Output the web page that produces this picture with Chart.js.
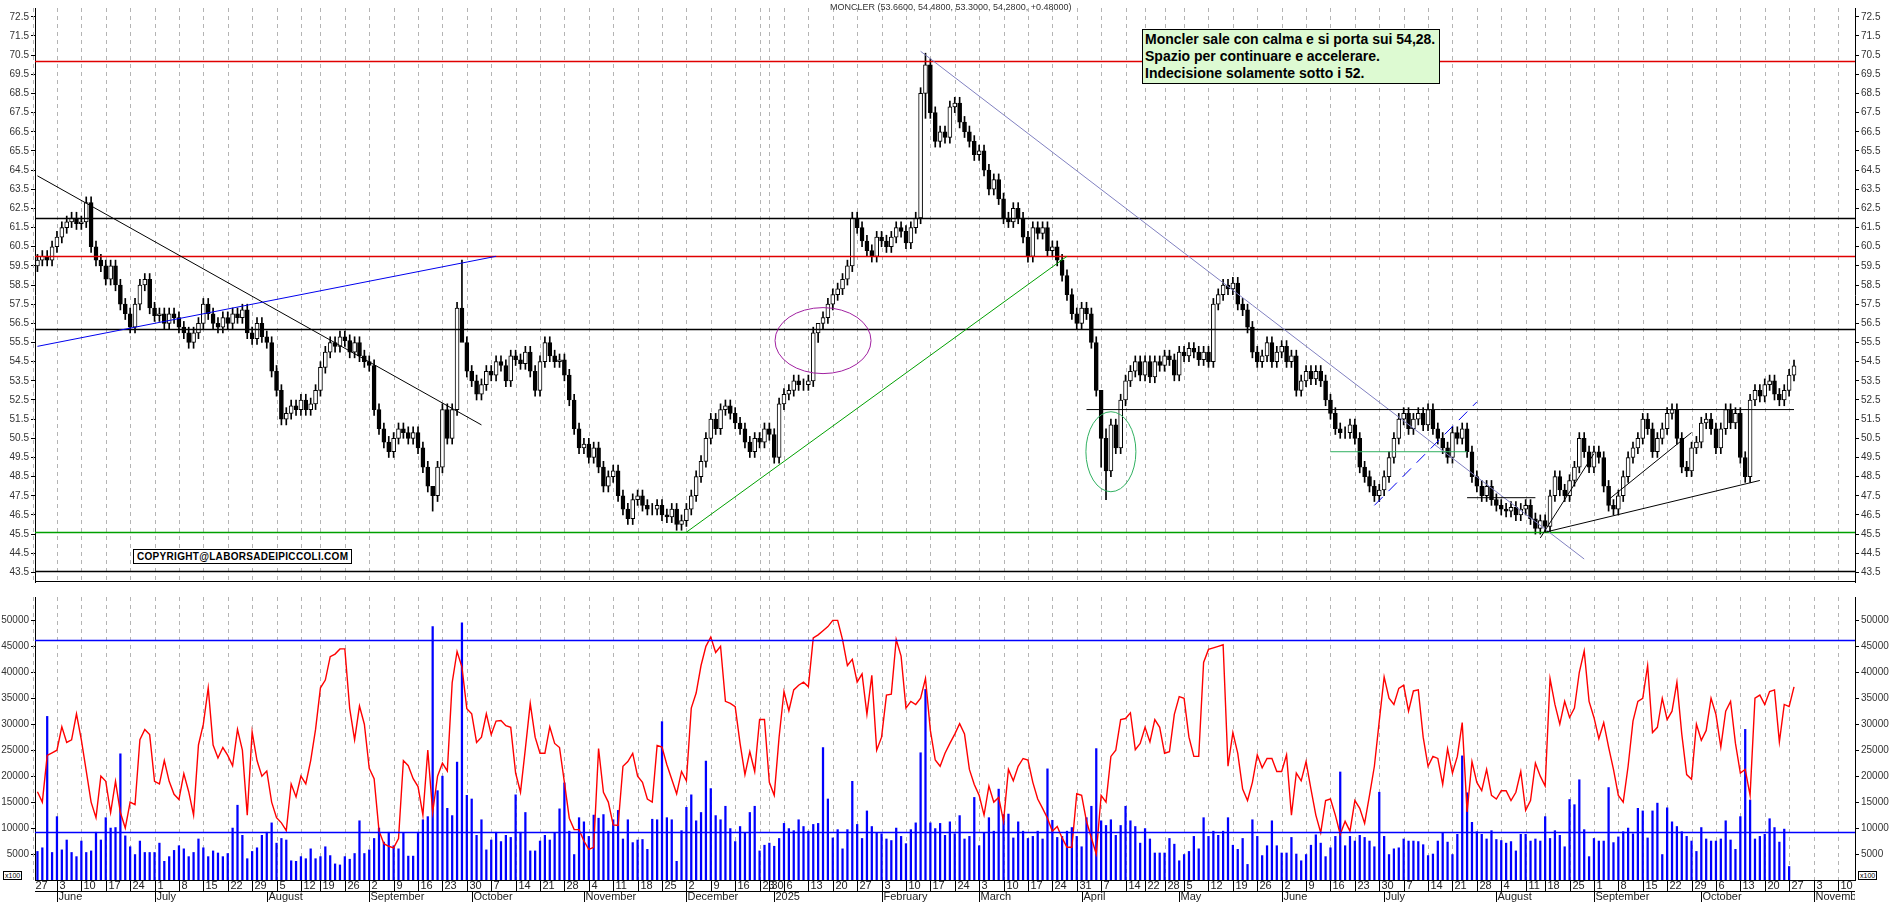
<!DOCTYPE html>
<html>
<head>
<meta charset="utf-8">
<script src="https://cdn.jsdelivr.net/npm/chart.js@4/dist/chart.umd.min.js"></script>
<style>
  body { margin:0; background:#fff; font-family:"Liberation Sans", Arial, sans-serif; }
  #wrap { position:relative; width:1890px; height:902px; overflow:hidden; }
  canvas { position:absolute; left:0; }
  #title { position:absolute; left:830px; top:2px; font-size:9px; color:#333; }
  #note { position:absolute; left:1142px; top:29px; background:#ddfad2; border:1px solid #000; white-space:nowrap;
          font-weight:bold; font-size:14px; line-height:17px; padding:1px 4px 1px 2px; }
  #copy { position:absolute; left:133px; top:549px; border:1px solid #000; background:#fff;
          font-weight:bold; font-size:10px; padding:1px 3px; letter-spacing:0.3px; }
  .x100 { position:absolute; top:871px; font-size:7px; border:1px solid #000; padding:0 1px; background:#fff; }
</style>
</head>
<body>
<div id="wrap">
  <canvas id="price" width="1890" height="590" style="top:0"></canvas>
  <canvas id="vol" width="1890" height="313" style="top:589px"></canvas>
  <div id="title">MONCLER (53.6600, 54.4800, 53.3000, 54.2800, +0.48000)</div>
  <div id="note">Moncler sale con calma e si porta sui 54,28.<br>Spazio per continuare e accelerare.<br>Indecisione solamente sotto i 52.</div>
  <div id="copy">COPYRIGHT@LABORSADEIPICCOLI.COM</div>
  <div class="x100" style="left:3px">x100</div>
  <div class="x100" style="left:1858px">x100</div>
</div>
<script>
// ── Data ───────────────────────────────────────────────────────
const holidays = ['2024-08-15','2024-12-24','2024-12-25','2024-12-26','2024-12-31','2025-01-01',
                  '2025-04-18','2025-04-21','2025-05-01','2025-08-15'];

// daily closes, 27 May 2024 → 30 Dec 2024
const close2024 = [
  59.8,60.0,59.8,60.5,61.0, 61.5,61.8,62.0,61.7,61.8, 62.8,60.5,59.8,59.5,58.8,
  59.5,58.5,57.5,57.0,56.3, 57.5,58.5,58.8,57.3,56.9, 57.0,56.5,57.0,56.8,56.3,
  56.0,55.5,56.0,56.5,57.5, 57.0,56.5,56.3,56.8,56.5, 57.0,56.8,57.2,56.0,55.7,
  56.5,55.8,55.5,54.0,53.0, 51.5,51.8,52.2,52.0,52.5, 52.0,52.3,53.0,54.2,
  55.0,55.5,55.3,55.8,55.6, 55.0,55.5,54.8,54.5,54.3, 52.0,51.0,50.3,49.8,50.5,
  51.0,50.8,50.5,50.8,50.0, 49.0,48.0,47.5,49.0,52.0, 50.5,52.0,57.3,55.5,54.0,
  53.5,52.8,53.3,54.0,53.8, 54.5,54.3,53.5,54.8,54.6, 54.4,55.0,54.0,53.0,54.5,
  55.5,54.8,54.5,54.6,53.8, 52.5,51.0,50.0,50.2,49.5, 50.0,49.0,48.0,48.5,48.8,
  47.5,46.8,46.3,47.3,47.5, 47.0,46.8,46.8,47.0,46.5, 46.4,46.8,46.0,46.2,46.8,
  47.5,48.5,49.3,50.5,51.5, 51.0,52.0,52.2,51.8,51.3, 51.0,50.3,49.8,50.5,50.3,
  51.0,50.7, 49.5
];
// daily closes, 2 Jan 2025 → 27 Oct 2025
const close2025 = [
  52.3,52.8, 53.0,53.5,53.3,53.3,53.5, 56.0,56.5,56.8,57.5,58.0, 58.3,58.8,59.5,62.0,61.5,
  60.8,60.3,60.0,61.0,60.8, 60.5,61.0,61.5,61.3,60.7, 61.5,62.0,68.5,70.0,67.5,
  66.0,66.5,66.2,67.8,68.0, 67.0,66.5,66.0,65.3,65.5, 64.5,63.5,64.0,63.0,62.0,
  61.8,62.5,62.0,61.0,60.0, 61.5,61.2,61.5,60.3,60.5, 59.8,59.0,58.0,57.0,56.5,
  57.3,57.0,55.5,53.0,50.5, 48.8,51.2,50.0,52.5,53.5, 54.0,54.5,53.8,54.5,
  53.7,54.5,54.3,54.8, 54.6,53.8,55.0,54.8, 55.2,55.0,54.6,55.0,54.5,
  57.5,58.0,58.5,58.3,58.6, 57.5,57.2,56.3,55.0,54.5, 54.8,55.5,54.5,55.0,55.3,
  54.5,54.8,53.0,53.5,54.0, 53.6,54.0,53.5,52.5,51.8, 51.0,50.8,50.8,51.2,50.5,
  49.0,48.5,48.0,47.5,47.8, 48.5,49.5,50.5,51.5,51.8, 51.0,51.5,51.8,51.2,52.0,
  51.0,50.5,50.0,49.5,50.8, 50.5,51.0,49.8,48.5,48.0, 47.5,48.0,47.3,47.0,46.8,
  46.7,46.9,46.5,46.8,47.0, 46.3,45.8,46.2,45.9, 47.5,48.5,47.8,47.5,48.3,
  49.0,50.5,49.8,49.0,49.8, 49.5,48.0,47.0,46.8,47.5, 48.5,49.5,50.0,50.5,51.5,
  51.0,49.8,50.5,51.0,51.8, 52.0,50.5,49.0,48.8,50.0, 50.3,51.3,51.5,51.0,50.0,
  51.0,52.0,51.3,51.8,49.5, 48.5,52.5,53.0,52.7,53.3, 53.5,52.8,52.5,53.0,53.8,
  54.28
];
// long shadows: [date, high, low]
const shadows = [['2024-09-26',59.8,56.0],['2024-09-18',47.6,46.7],['2025-02-13',70.6,67.2],
                 ['2025-04-07',51.0,47.3],['2025-04-04',52.8,49.0],['2025-01-14',56.5,55.5]];

// volume bars (thousands, axis shown x100)
const volA = [5.5,6.2,31.5,5.3,12.2, 5.8,7.7,5.3,4.5,7.5, 5.3,5.6,9.2,7.7,12, 10,10.1,24.3,8.5,6.4,
  4.9,7.5,5.3,5.3,5.3, 7.1,3.6,4.5,5.7,6.6, 6,4.5,5.3,7.9,6.2, 4.5,5.6,5.2,4.5,5.1, 10,14.4,8.6,4.1,5.5,
  6.2,8.6,9.2,11,7.1, 8,7.7,3.7,3.6, 4.5,4.1,6,4.1,4.5, 6.4,4.7,3.1,2.9,4.5, 4,5.1,11.4,5.1,5.8,
  8,10,7.3,9.2,6.6, 6,9,4.6,4.6,9.2, 11.6,12.2,48.8,17.2,20, 13.8,12.4,22.7,49.5,16.3, 15.6,8.6,11.6,5.8];
const volB = [7.7,9.2,7.4,8.6,8.2, 16.4,9.2,13,5.6,5.6, 7.5,8.6,7.7,9,13.7, 18.7,9.4,4.9,12,11.2,
  8.4,12.5,11.9,12.6,9.4, 11.6,13.4,7.9,11.6,7.2, 7.7,7.8,5.9,11.7,11.6, 30.5,12,11.6,3.6,9.5,
  14,16.4,11.4,13,22.9, 17.6,12.4,11.6,14.2,9.9, 7.4,10.3,9,13,14.2, 5.6,6.7,7.1,6.5,8,
  10.9,9.9,9.5,11.6,10.3, 9.4,10.7,10.9,25.5,15.6, 8.1,9.7,6,9.7,19, 10.7,8,13.3,10.3,9,
  8.9,7.9,7.6,10,8.4, 7,9.7,11,24.5,36.7, 11,9.9,10.9];
const volC = [8.6,11.2,8.9,12.4,7.9, 8.4,15.9,6.6,9,12, 9.4,17.5,12.6,12.7,8.1, 11.2,9.4,8,8.4,9.4,
  7.9,21.4,11.5,8.2,8.4, 9.4,10.1,8.4,6.4,12, 14.2,25.3,11.4,10.5,11.6, 8.6,10.5,14.2,11.4,10.3,
  7.1,9.9,7.9,5.2,5.2, 5.2,8,6.9,3.7,4.9, 5.5,8.4,6,12,8.4, 9.4,8.6,9.4,12,6.7, 5.9,8,3,11.6,8.4,
  4.7,6.6,11.4,6.6,5.2, 5.2,8.2,5,3.7,4.9, 6.7,8.7,7.1,4.5,6.2, 8.4,20.8,6.6,8.4,7.5, 8.6,8.2,7.5,6.4,16.9,
  8.4,4.9,6,6.2,7.9,7.5];
const volD = [7.5,7.4,6.8,4.7,5, 7.5,9,7.3,4.9,8.8, 23.9,16.8,11.1,9.3,8.8, 7.9,9.5,7.8,7.6,7.1,
  7.4,5.6,8.8,8.8,7.5, 7.9,7.5,12.2,8,9.5, 8.6,6.4,15.5,14.5,19.3, 9.7,4.5,8,7.5,7.5,
  17.8,7.2,8.3,9.3,10, 8.9,13.8,13.3,8.1,13.3, 14.8,4.9,13.9,11.2,10.3, 9.3,8.4,7.5,5.5,10.1,
  7.9,7.5,7.5,7.9,11.4, 7.7,5.9,12.2,29,15.4, 7.9,8.4,8.8,11.8,10.1, 7.3,9.8,2.6];

// red oscillator line (thousands)
const redA = [17,15,24,24.5,25, 29.5,26.5,27,32,27, 21,15,12,20,19, 13,19,13,10,15, 14.5,27,29,28,19,
  18.5,23,19,16.5,15.5, 20.5,17,12.5,26,30, 37,26,23.5,25.5,24, 22,29,25,12.5,28.5, 23,20,21,15,12,
  11,9.5,18.5,16,20, 18.5,23,29,37,38.5, 43,43.5,44.5,44.5,33, 27,33.5,30,21.5,19.5, 9.5,7,6.5,6.2,8,
  23,22,19.5,18,12.5, 25,13,20,22.5,21, 38,44,41,33,32, 26.5,27.5,32,28];
const redB = [30.6,30.7,29.7,29.4,20.6, 16.9,25.3,34,27.5,24.4, 24.4,29.5,26.3,25.5,18.8, 11.9,9.7,9.7,7.5,5.9,
  6.3,25.3,16.9,15,10.6, 10.5,21.9,22.8,24.4,20, 18.8,15.6,15,25.9,25.6, 22.2,19.4,16.6,20.9,19.1,
  33.1,36,41.3,45,46.8, 43.8,45,34.4,34,33.4, 26.3,20.3,24.7,20.9,30.9, 30.9,18.8,16.3,27.5,36.3,
  32.6,36.6,37.5,38.1,37.2, 46.6,47.2,48,48.8,50, 50,46.3,41.3,42.5,38.1, 39.7,31.9,39.4,25,27.5,
  35.6,35.8,46.3,43.1,33.1, 34.4,33.8,35,38.8,28.8, 23.1];
const redC = [21.9,24.4,26.3, 28.1,30.1,28.1,21.3,18.4, 16.3,12.5,18.1,15,15.9, 11.3,21.3,19.1,21.9,23.4,
  23.1,18.8,15.6,13.8,11.9, 9.4,10.3,8.1,6.3,6.3, 16.6,16.3,11.3,8.1,5, 16.3,15,23.8,25,30.9,
  31.1,32.2,25.1,26.3,29.4, 26.6,30.9,29.4,24.4,24.7, 31.9,35.3,35,27.5,23.8, 23.8,41.9,44.4,44.7,45,
  45.3,21.9,28.4,24.4,17.5, 15.3,18.8,24.1,21.6,23.4, 23.4,20.9,20.9,24.1,12.5, 20.6,19.1,22.8,17.5,12.5,
  9.1,15.3,15.6,12.5,8.8, 11.3,9.4,15.3,13.8,10.9, 16.3,21.9,30.6,39.1,35, 33.8,36.9,37.5,32.5,36.4];
const redD = [36.6,27.5,21.9,23.8,23.4, 18.4,25.3,20.6,23.8,30.3, 13.1,22.8,18.8,17.2,21.3, 16.3,15.6,17.2,17.2,15.3,
  16.9,20.9,13.4,15.3,22.5, 20,18.1,38.8,33.8,30, 34.4,31.3,33.1,40,44.1, 34.4,31.3,27.2,30.3,25.6,
  21.3,16.3,15,21.9,30.6, 34.4,35,41.3,28.4,29.4, 35,30.9,32.5,38.1,28.1, 20.3,19.4,30,26.9,28.8,
  35,31.9,25.6,32.5,34.4, 26.3,20.6,21.3,16.3,35, 35.6,33.8,36.3,36.6,26.6, 33.8,33.4,37.2];

// horizontal levels and drawn lines (date, price)
const priceLevels = [[70.2,'#e00000'],[62.0,'#000'],[60.0,'#e00000'],[56.2,'#000'],[45.6,'#00a000'],[43.6,'#000']];
const volLevels = [46300, 9300];
const trendLines = [
  ['2024-05-27',64.2,'2024-10-02',51.2,'#000'],
  ['2024-05-27',55.3,'2024-10-07',60.0,'#0000ee'],
  ['2024-11-29',45.6,'2025-03-26',60.0,'#00a000'],
  ['2025-02-12',70.7,'2025-08-27',44.2,'#8080c0'],
  ['2025-04-01',52.0,'2025-10-27',52.0,'#000'],
  ['2025-06-13',49.8,'2025-07-23',49.8,'#30b060'],
  ['2025-07-23',47.4,'2025-08-12',47.4,'#000'],
  ['2025-08-13',45.3,'2025-08-29',49.7,'#000'],
  ['2025-08-14',45.6,'2025-10-16',48.3,'#000'],
  ['2025-09-03',47.3,'2025-09-26',50.8,'#000'],
];
const dashedLines = [['2025-06-26',47.0,'2025-07-25',52.4,'#0000ee']];
const ellipses = [['2025-01-15',55.6,48,33,'#a020a0'],['2025-04-08',49.8,25,40,'#30b060']];

// ── Build axis days ────────────────────────────────────────────
const days = [];
for (let t = Date.UTC(2024,4,27); t <= Date.UTC(2025,10,12); t += 86400000) {
  const d = new Date(t), s = d.toISOString().slice(0,10);
  if (d.getUTCDay() === 0 || d.getUTCDay() === 6 || holidays.includes(s)) continue;
  days.push(s);
}
const idx = s => days.indexOf(s);
const weekId = s => Math.floor((Date.parse(s + 'T00:00:00Z') / 86400000 + 3) / 7);
const weekStarts = days.map((s, i) => (i === 0 || weekId(s) !== weekId(days[i-1])) ? i : -1).filter(i => i >= 0);

const closes = close2024.concat(close2025);
const vols = volA.concat(volB, volC, volD).map(v => v * 1000);
const reds = redA.concat(redB, redC, redD).map(v => v * 1000);

const wick = 0.3;
const bodies = [], wicks = [], bodyColors = [];
closes.forEach((c, i) => {
  const o = i ? closes[i-1] : c - 0.3;
  bodies.push([o, c]);
  wicks.push([Math.min(o,c) - wick, Math.max(o,c) + wick]);
  bodyColors.push(c >= o ? '#fff' : '#000');
});
shadows.forEach(([d, h, l]) => { const i = idx(d); if (i >= 0) wicks[i] = [l, h]; });

// ── Plugins ────────────────────────────────────────────────────
const gridPlugin = {
  id: 'weekGrid',
  beforeDatasetsDraw(chart) {
    const { ctx, chartArea: a, scales: { x } } = chart;
    const step = x.getPixelForValue(1) - x.getPixelForValue(0);
    ctx.save();
    ctx.strokeStyle = '#b4b4b4'; ctx.setLineDash([4,4]); ctx.lineWidth = 1;
    weekStarts.forEach(i => {
      const px = Math.round(x.getPixelForValue(i) - step) + 0.5;
      ctx.beginPath(); ctx.moveTo(px, a.top); ctx.lineTo(px, a.bottom); ctx.stroke();
    });
    ctx.restore();
  }
};

const overlayPlugin = {
  id: 'overlays',
  afterDatasetsDraw(chart) {
    const { ctx, chartArea: a, scales: { x, y } } = chart;
    ctx.save();
    ctx.beginPath(); ctx.rect(a.left, a.top, a.right - a.left, a.bottom - a.top); ctx.clip();
    priceLevels.forEach(([v, c]) => {
      ctx.strokeStyle = c; ctx.lineWidth = 1.3;
      const py = Math.round(y.getPixelForValue(v)) + 0.5;
      ctx.beginPath(); ctx.moveTo(a.left, py); ctx.lineTo(a.right, py); ctx.stroke();
    });
    const seg = ([d1, p1, d2, p2, c], dash) => {
      ctx.strokeStyle = c; ctx.lineWidth = 1; ctx.setLineDash(dash);
      ctx.beginPath();
      ctx.moveTo(x.getPixelForValue(idx(d1)), y.getPixelForValue(p1));
      ctx.lineTo(x.getPixelForValue(idx(d2)), y.getPixelForValue(p2));
      ctx.stroke();
    };
    trendLines.forEach(l => seg(l, []));
    dashedLines.forEach(l => seg(l, [12,8]));
    ctx.setLineDash([]);
    ellipses.forEach(([d, p, rx, ry, c]) => {
      ctx.strokeStyle = c; ctx.lineWidth = 1;
      ctx.beginPath();
      ctx.ellipse(x.getPixelForValue(idx(d)), y.getPixelForValue(p), rx, ry, 0, 0, Math.PI * 2);
      ctx.stroke();
    });
    ctx.strokeStyle = '#000';
    ctx.beginPath(); ctx.moveTo(a.left, a.bottom - 0.5); ctx.lineTo(a.right, a.bottom - 0.5); ctx.stroke();
    ctx.restore();
  }
};

const volOverlay = {
  id: 'volOverlay',
  afterDatasetsDraw(chart) {
    const { ctx, chartArea: a, scales: { x, y } } = chart;
    ctx.save();
    ctx.strokeStyle = '#0000ff'; ctx.lineWidth = 1.3;
    volLevels.forEach(v => {
      const py = Math.round(y.getPixelForValue(v)) + 0.5;
      ctx.beginPath(); ctx.moveTo(a.left, py); ctx.lineTo(a.right, py); ctx.stroke();
    });
    // date axis
    const step = x.getPixelForValue(1) - x.getPixelForValue(0);
    const yb = a.bottom;
    ctx.strokeStyle = '#000'; ctx.lineWidth = 1;
    ctx.beginPath(); ctx.moveTo(a.left, yb + 0.5); ctx.lineTo(a.right, yb + 0.5); ctx.stroke();
    ctx.beginPath(); ctx.moveTo(a.left, yb + 11.5); ctx.lineTo(a.right, yb + 11.5); ctx.stroke();
    ctx.fillStyle = '#222'; ctx.font = '11px "Liberation Sans", Arial'; ctx.textBaseline = 'middle';
    ctx.beginPath(); ctx.rect(a.left, yb, a.right - a.left, 30); ctx.clip();
    weekStarts.forEach(i => {
      const px = Math.round(x.getPixelForValue(i) - step) + 0.5;
      ctx.beginPath(); ctx.moveTo(px, yb); ctx.lineTo(px, yb + 11); ctx.stroke();
      ctx.fillText(String(+days[i].slice(8)), px + 2, yb + 6);
    });
    days.forEach((s, i) => {
      if (i === 0 || s.slice(5,7) === days[i-1].slice(5,7)) return;
      const px = Math.round(x.getPixelForValue(i) - step) + 0.5;
      ctx.beginPath(); ctx.moveTo(px, yb + 11); ctx.lineTo(px, yb + 22); ctx.stroke();
      const m = +s.slice(5,7);
      ctx.fillText(m === 1 ? '2025' : new Date(s).toLocaleString('en-US', { month: 'long', timeZone: 'UTC' }), px + 1, yb + 17);
    });
    ctx.restore();
  }
};

const yAxis = (pos, min, max, ticks, fmt) => ({
  position: pos, min, max,
  afterFit: s => { s.width = 35; },
  afterBuildTicks: s => { s.ticks = ticks.map(v => ({ value: v })); },
  grid: { drawOnChartArea: false, color: '#000', tickLength: 4 },
  border: { color: '#000' },
  ticks: { color: '#333', font: { size: 10, family: '"Liberation Sans", Arial' }, padding: 2, callback: fmt },
});

Chart.defaults.animation = false;
Chart.defaults.devicePixelRatio = 1;

const priceTicks = [];
for (let v = 43.5; v <= 72.5; v += 0.5) priceTicks.push(+v.toFixed(1));

new Chart(document.getElementById('price'), {
  type: 'bar',
  data: {
    labels: days,
    datasets: [
      { data: wicks, backgroundColor: '#000', barThickness: 1, grouped: false, order: 2 },
      { data: bodies, backgroundColor: bodyColors, borderColor: '#000', borderWidth: 1, borderSkipped: false,
        barThickness: 4, grouped: false, order: 1 },
    ]
  },
  options: {
    responsive: false,
    layout: { padding: 0 },
    plugins: { legend: { display: false }, tooltip: { enabled: false } },
    scales: {
      x: { display: false, offset: true },
      yl: yAxis('left', 43.0, 72.96, priceTicks, v => v.toFixed(1)),
      y: yAxis('right', 43.0, 72.96, priceTicks, v => v.toFixed(1)),
    }
  },
  plugins: [gridPlugin, overlayPlugin]
});

const volTicks = [];
for (let v = 5000; v <= 50000; v += 5000) volTicks.push(v);

new Chart(document.getElementById('vol'), {
  type: 'bar',
  data: {
    labels: days,
    datasets: [
      { type: 'line', data: reds, borderColor: '#ff0000', borderWidth: 1.4, pointRadius: 0, order: 1 },
      { data: vols, backgroundColor: '#0000ff', barThickness: 1.6, order: 2 },
    ]
  },
  options: {
    responsive: false,
    layout: { padding: { top: 0, bottom: 22, left: 0, right: 0 } },
    plugins: { legend: { display: false }, tooltip: { enabled: false } },
    scales: {
      x: { display: false, offset: true },
      yl: yAxis('left', 0, 54494, volTicks, v => String(v)),
      y: yAxis('right', 0, 54494, volTicks, v => String(v)),
    }
  },
  plugins: [gridPlugin, volOverlay]
});
</script>
</body>
</html>
